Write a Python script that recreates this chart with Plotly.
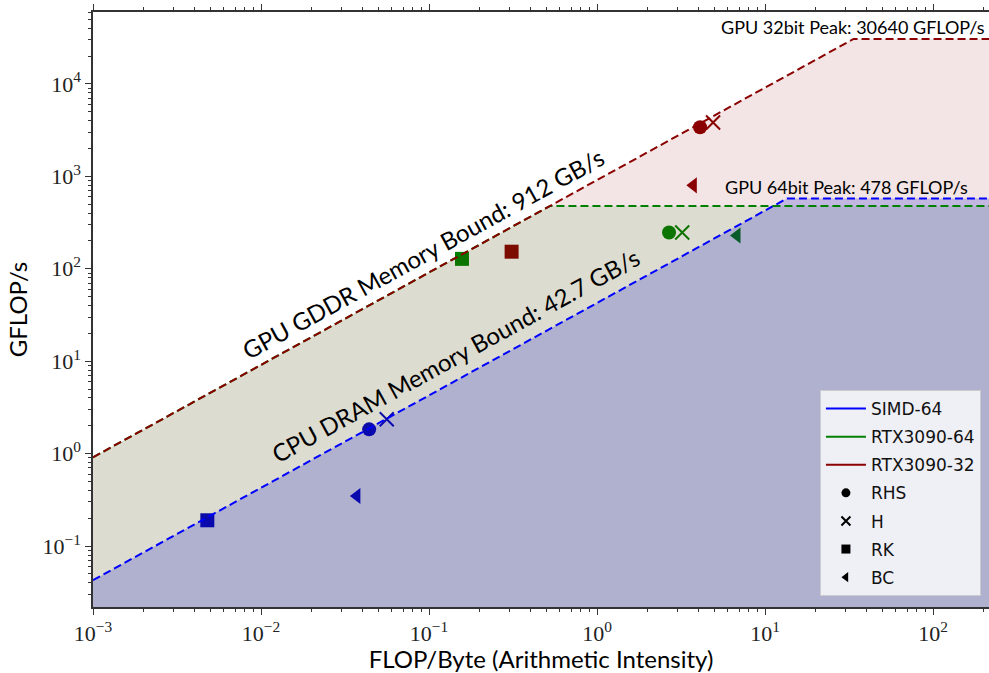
import numpy as np
import plotly.graph_objects as go

# ---------------- data ----------------
kernels = ["RHS", "H", "RK", "BC"]
kernel_symbols = ["circle", "x-thin", "square", "triangle-left"]

simd64_ai = [0.0440, 0.0560, 0.00479, 0.0372]
simd64_gflops = [1.83, 2.35, 0.190, 0.348]

rtx64_ai = [2.68, 3.21, 0.157, 6.80]
rtx64_gflops = [247, 247, 128, 229]

rtx32_ai = [4.10, 4.90, 0.310, 3.74]
rtx32_gflops = [3400, 3820, 153, 800]

cpu_bw = 42.7        # GB/s
gpu_bw = 912.0       # GB/s
simd64_peak = 576.0  # GFLOP/s
gpu64_peak = 478.0   # GFLOP/s
gpu32_peak = 30640.0 # GFLOP/s

x_lo, x_hi = 1e-3, 215.0
y_lo, y_hi = 0.0219, 60000.0
y_floor = 0.005

x_tick_vals = [1e-3, 1e-2, 1e-1, 1e0, 1e1, 1e2]
x_tick_text = ["10<sup>−3</sup>", "10<sup>−2</sup>", "10<sup>−1</sup>",
               "10<sup>0</sup>", "10<sup>1</sup>", "10<sup>2</sup>"]
y_tick_vals = [1e-1, 1e0, 1e1, 1e2, 1e3, 1e4]
y_tick_text = ["10<sup>−1</sup>", "10<sup>0</sup>", "10<sup>1</sup>",
               "10<sup>2</sup>", "10<sup>3</sup>", "10<sup>4</sup>"]

# ---------------- styles ----------------
C_BLUE_LINE = "#0000ff"
C_GREEN_LINE = "#008000"
C_RED_LINE = "#8b0000"
C_BLUE_MK = "#0000cd"
C_GREEN_MK = "#008000"
C_RED_MK = "#8b0000"
SPINE = "#333333"
SANS = "Lato, DejaVu Sans, sans-serif"
SERIF = "Liberation Serif, DejaVu Serif, serif"


def roofline(bw, peak):
    knee = peak / bw
    return [x_lo, knee, x_hi], [bw * x_lo, peak, peak]


fig = go.Figure()

# markers (drawn first so the translucent fills overlay them)
for ai, gf, col in [(simd64_ai, simd64_gflops, C_BLUE_MK),
                    (rtx64_ai, rtx64_gflops, C_GREEN_MK),
                    (rtx32_ai, rtx32_gflops, C_RED_MK)]:
    for i, k in enumerate(kernels):
        fig.add_trace(go.Scatter(
            x=[ai[i]], y=[gf[i]], mode="markers", showlegend=False,
            marker=dict(symbol=kernel_symbols[i], size=14, color=col,
                        line=dict(color=col, width=2 if kernel_symbols[i] == "x-thin" else 0)),
            hoverinfo="skip"))

# translucent fills
fills = [
    (roofline(gpu_bw, gpu32_peak), "rgba(139,0,0,0.10)"),
    (roofline(gpu_bw, gpu64_peak), "rgba(0,128,0,0.09)"),
    (roofline(cpu_bw, simd64_peak), "rgba(0,0,205,0.20)"),
]
for (xs, ys), fc in fills:
    fig.add_trace(go.Scatter(
        x=xs + [x_hi, x_lo], y=ys + [y_floor, y_floor], mode="lines",
        fill="toself", fillcolor=fc, line=dict(width=0), showlegend=False,
        hoverinfo="skip"))

# roofline dashed lines
for (bw, pk, col) in [(cpu_bw, simd64_peak, C_BLUE_LINE),
                      (gpu_bw, gpu64_peak, C_GREEN_LINE),
                      (gpu_bw, gpu32_peak, C_RED_LINE)]:
    xs, ys = roofline(bw, pk)
    fig.add_trace(go.Scatter(x=xs, y=ys, mode="lines", showlegend=False,
                             line=dict(color=col, width=2, dash="8px,4px"),
                             hoverinfo="skip"))

# legend proxies
legend_lines = [("SIMD-64", C_BLUE_LINE), ("RTX3090-64", C_GREEN_LINE), ("RTX3090-32", C_RED_LINE)]
for name, col in legend_lines:
    fig.add_trace(go.Scatter(x=[None], y=[None], mode="lines", name=name,
                             legendgroup=name, line=dict(color=col, width=2)))
for k, s in zip(kernels, kernel_symbols):
    fig.add_trace(go.Scatter(x=[None], y=[None], mode="markers", name=k,
                             legendgroup=k,
                             marker=dict(symbol=s, size=9, color="black",
                                         line=dict(color="black", width=2 if s == "x-thin" else 0))))

# text annotations
angle = -np.degrees(np.arctan(92.5 / 168.0))
fig.add_annotation(x=np.log10(0.092), y=np.log10(146), xref="x", yref="y",
                   text="GPU GDDR Memory Bound: 912 GB/s", showarrow=False,
                   textangle=angle, font=dict(family=SANS, size=24, color="black"))
fig.add_annotation(x=np.log10(0.143), y=np.log10(11.5), xref="x", yref="y",
                   text="CPU DRAM Memory Bound: 42.7 GB/s", showarrow=False,
                   textangle=angle, font=dict(family=SANS, size=24, color="black"))
fig.add_annotation(x=0.998, y=0.975, xref="paper", yref="paper", xanchor="right",
                   yanchor="middle", text="GPU 32bit Peak: 30640 GFLOP/s", showarrow=False,
                   font=dict(family=SANS, size=18, color="black"))
fig.add_annotation(x=0.703, y=0.706, xref="paper", yref="paper", xanchor="left",
                   yanchor="middle", text="GPU 64bit Peak: 478 GFLOP/s", showarrow=False,
                   font=dict(family=SANS, size=18, color="black"))

minor_x = [m * 10.0 ** e for e in range(-3, 3) for m in range(2, 10) if m * 10.0 ** e <= x_hi]
minor_y = [m * 10.0 ** e for e in range(-2, 5) for m in range(2, 10)
           if y_lo <= m * 10.0 ** e <= y_hi]

axis_common = dict(type="log", showgrid=False, zeroline=False, showline=True,
                   linecolor=SPINE, linewidth=1.5, ticks="outside", ticklen=6,
                   tickwidth=1.2, tickcolor=SPINE,
                   tickfont=dict(family=SERIF, size=22, color="#222"))

fig.update_layout(
    width=989, height=673,
    margin=dict(l=93, r=0, t=12, b=66),
    paper_bgcolor="white", plot_bgcolor="white",
    xaxis=dict(**axis_common, range=[np.log10(x_lo), np.log10(x_hi)],
               tickvals=x_tick_vals, ticktext=x_tick_text, mirror="allticks",
               minor=dict(tickvals=minor_x, ticks="outside", ticklen=3.5,
                          tickcolor=SPINE, tickwidth=1, showgrid=False),
               title=dict(text="FLOP/Byte (Arithmetic Intensity)", standoff=0,
                          font=dict(family=SANS, size=24, color="black"))),
    yaxis=dict(**axis_common, range=[np.log10(y_lo), np.log10(y_hi)],
               tickvals=y_tick_vals, ticktext=y_tick_text,
               minor=dict(tickvals=minor_y, ticks="outside", ticklen=3.5,
                          tickcolor=SPINE, tickwidth=1, showgrid=False),
               title=dict(text="GFLOP/s", standoff=8,
                          font=dict(family=SANS, size=24, color="black"))),
    legend=dict(x=0.991, y=0.0185, xanchor="right", yanchor="bottom",
                bgcolor="rgba(255,255,255,0.8)", bordercolor="#cccccc", borderwidth=1,
                font=dict(family="DejaVu Sans", size=17, color="#111"),
                tracegroupgap=3, itemwidth=40),
    showlegend=True,
)

fig.write_html("out.html", config={"displayModeBar": False},
               post_script="document.body.style.margin='0';")
